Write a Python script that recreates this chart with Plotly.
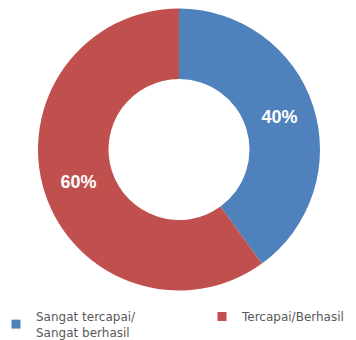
import plotly.graph_objects as go

labels = ["Sangat tercapai/<br>Sangat berhasil", "Tercapai/Berhasil"]
values = [40, 60]
colors = ["#4F81BD", "#C0504D"]
legend_ids = ["legend", "legend2"]

W, H = 356, 340
fig = go.Figure()
fig.add_trace(go.Pie(
    labels=labels, values=values, hole=0.5, sort=False, direction="clockwise",
    rotation=0,
    marker=dict(colors=colors, line=dict(color="white", width=0)),
    textinfo="percent", texttemplate="<b>%{percent:.0%}</b>",
    textposition="inside", insidetextorientation="horizontal",
    textfont=dict(color="white", size=18, family="Liberation Sans"),
    domain=dict(x=[30 / W, 312 / W], y=[1 - 283 / H, 1]),
    showlegend=False,
))
# legend entries (one per legend so they can sit side by side)
for lab, col, lg in zip(labels, colors, legend_ids):
    fig.add_trace(go.Scatter(
        x=[None], y=[None], mode="markers", name=lab, legend=lg,
        marker=dict(symbol="square", size=9, color=col),
        showlegend=True, hoverinfo="skip",
    ))

legend_font = dict(size=12, color="#595959", family="DejaVu Sans")
fig.update_layout(
    width=W, height=H,
    margin=dict(l=0, r=0, t=0, b=0, autoexpand=False),
    paper_bgcolor="white", plot_bgcolor="white",
    xaxis=dict(visible=False), yaxis=dict(visible=False),
    legend=dict(x=-12 / W, y=1 - 294 / H, xanchor="left", yanchor="top",
                font=legend_font, bgcolor="rgba(0,0,0,0)", itemwidth=30),
    legend2=dict(x=194 / W, y=1 - 294 / H, xanchor="left", yanchor="top",
                 font=legend_font, bgcolor="rgba(0,0,0,0)", itemwidth=30),
)
fig.write_html("out.html")
